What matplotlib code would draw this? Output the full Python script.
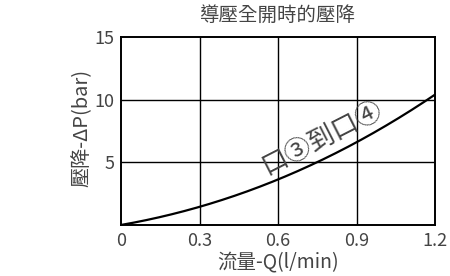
import matplotlib
matplotlib.use('agg')
import matplotlib.pyplot as plt
import numpy as np

plt.rcParams['font.family'] = ['Noto Sans CJK TC', 'DejaVu Sans']

# flow (l/min) vs pressure drop (bar)
flow = [0, 0.15, 0.3, 0.45, 0.6, 0.75, 0.9, 1.05, 1.2]
dp = [0, 0.65, 1.43, 2.45, 3.65, 5.0, 6.6, 8.4, 10.4]
xticks = [0, 0.3, 0.6, 0.9, 1.2]
xtick_labels = ['0', '0.3', '0.6', '0.9', '1.2']
yticks = [5, 10, 15]

grey = '#444444'

fig = plt.figure(figsize=(4.5, 2.76), dpi=100)
ax = fig.add_axes([121 / 450, 1 - 225 / 276, 314 / 450, 188 / 276])

xs = np.linspace(0, 1.2, 200)
# smooth curve through the read points
coef = np.polyfit(flow, dp, 3)
ax.plot(xs, np.polyval(coef, xs), color='black', lw=1.6, solid_capstyle='butt')

ax.set_xlim(0, 1.2)
ax.set_ylim(0, 15)
ax.set_xticks(xticks)
ax.set_xticklabels(xtick_labels)
ax.set_yticks(yticks)
for v in [0.3, 0.6, 0.9]:
    ax.axvline(v, color='black', lw=1.0)
for v in [5, 10]:
    ax.axhline(v, color='black', lw=1.0)
for s in ax.spines.values():
    s.set_linewidth(1.4)
ax.tick_params(length=0, labelsize=13, labelcolor=grey, pad=5)
for lab in ax.get_xticklabels() + ax.get_yticklabels():
    lab.set_fontweight('light')

fig.text(278 / 450, 1 - 15 / 276, '導壓全開時的壓降', fontsize=14, color=grey,
         ha='center', va='center', fontweight='light')
fig.text(278 / 450, 1 - 263 / 276, '流量-Q(l/min)', fontsize=14, color=grey,
         ha='center', va='center', fontweight='light')
fig.text(82 / 450, 1 - 128 / 276, '壓降-ΔP(bar)', fontsize=14.5, color=grey,
         ha='center', va='center', rotation=90, fontweight='light')

ax.text(0.77, 7.0, '口③到口④', fontsize=19, color=grey, rotation=27,
        ha='center', va='center', rotation_mode='anchor', fontweight='light',
        family=['Noto Sans CJK TC', 'DejaVu Sans'])

fig.savefig('out.png', dpi=100)
